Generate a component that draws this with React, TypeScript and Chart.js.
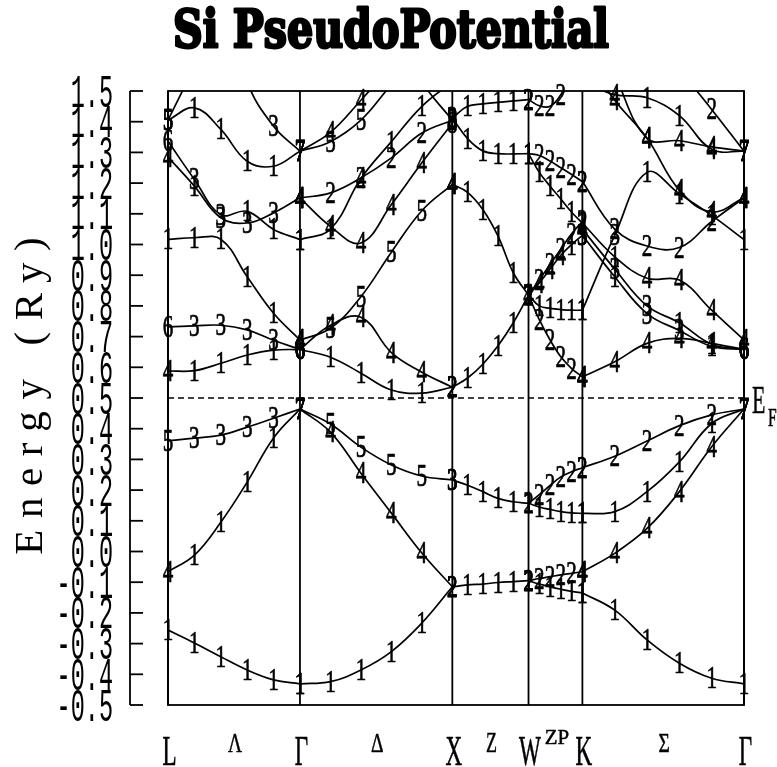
import React, { useEffect, useRef } from "react";
import { Chart, registerables } from "chart.js";

Chart.register(...registerables);

// Energy window (Ry) and Fermi level
const E_MIN = -0.5;
const E_MAX = 1.5;
const FERMI = 0.5;

// k-path sample positions (path length units) along each segment
const K_LG = [0, 0.1732, 0.3464, 0.5196, 0.6928, 0.866];
const K_GX = [0.866, 1.066, 1.266, 1.466, 1.666, 1.866];
const K_XW = [1.866, 1.966, 2.066, 2.166, 2.266, 2.366];
const K_WK = [2.366, 2.4367, 2.5074, 2.5781, 2.6489, 2.7196];
const K_KG = [2.7196, 2.9317, 3.1438, 3.356, 3.5681, 3.7802];

// High-symmetry points and the names of the lines between them
const SYM_POINTS = ["L", "Γ", "X", "W", "K", "Γ"];
const SYM_K = [0, 0.866, 1.866, 2.366, 2.7196, 3.7802];
const LINE_NAMES = ["Λ", "Δ", "Z", "ZP", "Σ"];

// Energy axis tick labels
const Y_TICKS = [
  "-0.5", "-0.4", "-0.3", "-0.2", "-0.1", "0.0", "0.1", "0.2", "0.3", "0.4", "0.5",
  "0.6", "0.7", "0.8", "0.9", "1.0", "1.1", "1.2", "1.3", "1.4", "1.5",
];

// Bands per segment: energies (Ry) at the sample k-points and the irrep index at each point
type Band = [number[], string];

const BANDS_LG: Band[] = [
  [[-0.256, -0.298, -0.343, -0.386, -0.418, -0.431], "111111"],
  [[-0.066, -0.012, 0.095, 0.226, 0.37, 0.464], "411117"],
  [[0.361, 0.369, 0.379, 0.405, 0.434, 0.464], "533337"],
  [[0.588, 0.589, 0.613, 0.64, 0.656, 0.658], "411116"],
  [[0.732, 0.735, 0.737, 0.722, 0.688, 0.658], "633336"],
  [[1.017, 1.022, 1.017, 0.895, 0.776, 0.689], "111114"],
  [[1.336, 1.212, 1.097, 1.108, 1.049, 1.016], "633111"],
  [[1.285, 1.19, 1.087, 1.07, 1.103, 1.152], "413334"],
  [[1.405, 1.445, 1.375, 1.271, 1.255, 1.304], "511117"],
  [[1.405, 1.58, 1.76, 1.9, 2.0, 2.05], "511111"],
  [[2.3, 2.1, 1.85, 1.53, 1.385, 1.304], "333337"],
];

const BANDS_GX: Band[] = [
  [[1.304, 1.365, 1.47, 1.58, 1.68, 1.75], "744444"],
  [[1.304, 1.335, 1.405, 1.52, 1.62, 1.7], "755555"],
  [[1.152, 1.168, 1.217, 1.282, 1.363, 1.405], "422223"],
  [[1.016, 1.05, 1.215, 1.335, 1.45, 1.53], "114111"],
  [[2.2, 2.05, 1.9, 1.72, 1.53, 1.405], "111118"],
  [[1.152, 1.059, 1.005, 1.13, 1.266, 1.395], "444448"],
  [[0.689, 0.727, 0.83, 0.975, 1.11, 1.196], "455554"],
  [[0.658, 0.737, 0.763, 0.648, 0.584, 0.535], "644442"],
  [[0.658, 0.633, 0.581, 0.526, 0.516, 0.535], "611112"],
  [[0.464, 0.415, 0.34, 0.282, 0.246, 0.233], "755553"],
  [[0.464, 0.389, 0.255, 0.125, -0.005, -0.115], "744442"],
  [[-0.431, -0.424, -0.386, -0.326, -0.233, -0.115], "111112"],
];

const BANDS_XW: Band[] = [
  [[1.412, 1.45, 1.458, 1.463, 1.468, 1.472], "311112"],
  [[1.412, 1.345, 1.305, 1.296, 1.295, 1.296], "311111"],
  [[1.196, 1.17, 1.114, 1.027, 0.908, 0.835], "411112"],
  [[0.535, 0.565, 0.61, 0.67, 0.745, 0.835], "211111"],
  [[0.233, 0.216, 0.195, 0.173, 0.162, 0.157], "311111"],
  [[-0.115, -0.109, -0.106, -0.101, -0.098, -0.095], "211112"],
];

const BANDS_WK: Band[] = [
  [[1.472, 1.452, 1.45, 1.488, 1.56, 1.65], "222222"],
  [[1.296, 1.29, 1.272, 1.25, 1.228, 1.205], "122222"],
  [[1.296, 1.235, 1.19, 1.148, 1.105, 1.07], "111111"],
  [[0.835, 0.885, 0.935, 0.985, 1.035, 1.075], "222222"],
  [[0.835, 0.875, 0.92, 0.965, 1.0, 1.03], "444413"],
  [[0.835, 0.8, 0.792, 0.788, 0.786, 0.786], "111111"],
  [[0.835, 0.755, 0.689, 0.634, 0.596, 0.569], "222224"],
  [[0.157, 0.185, 0.215, 0.243, 0.26, 0.273], "222222"],
  [[0.157, 0.145, 0.137, 0.13, 0.126, 0.124], "111111"],
  [[-0.095, -0.088, -0.082, -0.076, -0.071, -0.066], "222224"],
  [[-0.095, -0.106, -0.115, -0.123, -0.13, -0.135], "111111"],
];

const BANDS_KG: Band[] = [
  [[1.53, 1.488, 1.478, 1.42, 1.31, 1.304], "441147"],
  [[2.0, 1.85, 1.7, 1.57, 1.44, 1.304], "222227"],
  [[1.75, 1.55, 1.346, 1.338, 1.318, 1.304], "444447"],
  [[1.62, 1.47, 1.346, 1.177, 1.106, 1.152], "444444"],
  [[0.786, 1.03, 1.235, 1.165, 1.095, 1.016], "131111"],
  [[1.205, 1.05, 0.995, 0.99, 1.075, 1.152], "222224"],
  [[1.07, 0.96, 0.89, 0.884, 0.786, 0.689], "214444"],
  [[1.05, 0.92, 0.8, 0.745, 0.675, 0.658], "433116"],
  [[1.03, 0.895, 0.775, 0.72, 0.668, 0.658], "313316"],
  [[0.569, 0.618, 0.678, 0.694, 0.678, 0.658], "444446"],
  [[0.273, 0.31, 0.36, 0.41, 0.445, 0.464], "222227"],
  [[0.124, 0.13, 0.195, 0.292, 0.417, 0.464], "111117"],
  [[-0.066, -0.006, 0.075, 0.195, 0.341, 0.464], "444447"],
  [[-0.135, -0.191, -0.288, -0.364, -0.413, -0.431], "111111"],
];

const SEGMENTS: { k: number[]; bands: Band[] }[] = [
  { k: K_LG, bands: BANDS_LG },
  { k: K_GX, bands: BANDS_GX },
  { k: K_XW, bands: BANDS_XW },
  { k: K_WK, bands: BANDS_WK },
  { k: K_KG, bands: BANDS_KG },
];

function drawScaledText(
  ctx: CanvasRenderingContext2D,
  text: string,
  x: number,
  y: number,
  font: string,
  sx: number,
  align: CanvasTextAlign = "center",
  stroke = 0
) {
  ctx.save();
  ctx.font = font;
  ctx.textAlign = align;
  ctx.textBaseline = "alphabetic";
  ctx.translate(x, y);
  ctx.scale(sx, 1);
  ctx.fillText(text, 0, 0);
  if (stroke > 0) {
    ctx.lineWidth = stroke;
    ctx.lineJoin = "round";
    ctx.strokeText(text, 0, 0);
  }
  ctx.restore();
}

const decorPlugin = {
  id: "bandDecor",
  beforeDraw(chart: any) {
    const { ctx, width, height } = chart;
    ctx.save();
    ctx.fillStyle = "#fff";
    ctx.fillRect(0, 0, width, height);
    ctx.restore();
  },
  afterDatasetsDraw(chart: any) {
    const { ctx, chartArea: a } = chart;
    const xs = chart.scales.x;
    const ys = chart.scales.y;
    const seg = (x1: number, y1: number, x2: number, y2: number) => {
      ctx.beginPath();
      ctx.moveTo(x1, y1);
      ctx.lineTo(x2, y2);
      ctx.stroke();
    };
    ctx.save();
    ctx.strokeStyle = "#000";
    ctx.fillStyle = "#000";

    // Fermi level
    ctx.lineWidth = 1.5;
    ctx.setLineDash([6, 4]);
    const fy = ys.getPixelForValue(FERMI);
    seg(a.left, fy, a.right, fy);
    ctx.setLineDash([]);

    // frame and high-symmetry verticals
    ctx.lineWidth = 1.8;
    ctx.strokeRect(a.left, a.top, a.right - a.left, a.bottom - a.top);
    SYM_K.forEach((k) => {
      const px = xs.getPixelForValue(k);
      seg(px, a.top, px, a.bottom);
    });

    // energy axis with inward ticks
    const axX = a.left - 38;
    seg(axX, a.top, axX, a.bottom);
    Y_TICKS.forEach((t) => {
      const py = ys.getPixelForValue(parseFloat(t));
      seg(axX, py, axX + 13, py);
      drawScaledText(ctx, t, 113, py + 15.5, "47px 'Liberation Mono'", 0.5, "right", 0);
    });

    // irrep indices at every sample point
    chart.data.datasets.forEach((ds: any, i: number) => {
      const meta = chart.getDatasetMeta(i);
      meta.data.forEach((pt: any, j: number) => {
        const e = ds.data[j].y;
        if (e > E_MAX + 0.012 || e < E_MIN - 0.01) return;
        drawScaledText(ctx, ds.irreps[j], pt.x, pt.y + 10, "31px 'Liberation Serif'", 0.68, "center", 0.7);
      });
    });

    // k-path labels
    SYM_POINTS.forEach((s, i) => {
      const px = xs.getPixelForValue(SYM_K[i]);
      drawScaledText(ctx, s, px + 1.5, 765, "42px 'Liberation Serif'", 0.55, "center", 0.6);
    });
    LINE_NAMES.forEach((s, i) => {
      const mid = xs.getPixelForValue((SYM_K[i] + SYM_K[i + 1]) / 2);
      if (s === "ZP") drawScaledText(ctx, s, mid + 1.5, 744, "22px 'Liberation Serif'", 0.95, "center", 0.5);
      else if (s === "Z") drawScaledText(ctx, s, mid + 1, 752, "30px 'Liberation Serif'", 0.6, "center", 0.5);
      else drawScaledText(ctx, s, mid + 1, 752, "27px 'Liberation Serif'", 0.72, "center", 0.5);
    });

    // Fermi label
    drawScaledText(ctx, "E", a.right + 8, fy + 15, "40px 'Liberation Serif'", 0.55, "left", 0.5);
    drawScaledText(ctx, "F", a.right + 24, fy + 28, "26px 'Liberation Serif'", 0.6, "left", 0.5);

    // axis title
    ctx.save();
    ctx.translate(42, 396);
    ctx.rotate(-Math.PI / 2);
    ctx.font = "41px 'Liberation Serif'";
    (ctx as any).letterSpacing = "11.6px";
    ctx.textAlign = "center";
    ctx.textBaseline = "alphabetic";
    ctx.fillText("Energy (Ry)", 5.8, 0);
    ctx.restore();

    // title
    ctx.save();
    ctx.font = "bold 52px 'DejaVu Serif'";
    const w = ctx.measureText("Si PseudoPotential").width;
    ctx.translate(173, 47);
    ctx.scale(436 / w, 1);
    ctx.textAlign = "left";
    ctx.textBaseline = "alphabetic";
    ctx.lineWidth = 3;
    ctx.lineJoin = "round";
    ctx.fillText("Si PseudoPotential", 0, 0);
    ctx.strokeText("Si PseudoPotential", 0, 0);
    ctx.restore();

    ctx.restore();
  },
};

export default function App() {
  const canvasRef = useRef<HTMLCanvasElement | null>(null);

  useEffect(() => {
    const canvas = canvasRef.current;
    if (!canvas) return;
    const datasets: any[] = [];
    SEGMENTS.forEach((s) => {
      s.bands.forEach(([energies, irreps]) => {
        datasets.push({
          data: s.k.map((k, i) => ({ x: k, y: energies[i] })),
          irreps: irreps.split(""),
          showLine: true,
          borderColor: "#000",
          borderWidth: 1.7,
          pointRadius: 0,
          tension: 0.4,
          fill: false,
        });
      });
    });

    const chart = new Chart(canvas, {
      type: "scatter",
      data: { datasets },
      options: {
        animation: false,
        responsive: false,
        devicePixelRatio: 1,
        events: [],
        layout: { padding: { left: 168, right: 33, top: 91, bottom: 62 } },
        scales: {
          x: { type: "linear", min: 0, max: SYM_K[SYM_K.length - 1], display: false },
          y: { type: "linear", min: E_MIN, max: E_MAX, display: false },
        },
        plugins: { legend: { display: false }, tooltip: { enabled: false } },
      },
      plugins: [decorPlugin],
    } as any);
    return () => chart.destroy();
  }, []);

  return (
    <div style={{ position: "fixed", left: 0, top: 0, width: 777, height: 767, background: "#fff" }}>
      <canvas ref={canvasRef} width={777} height={767} style={{ display: "block" }} />
    </div>
  );
}
